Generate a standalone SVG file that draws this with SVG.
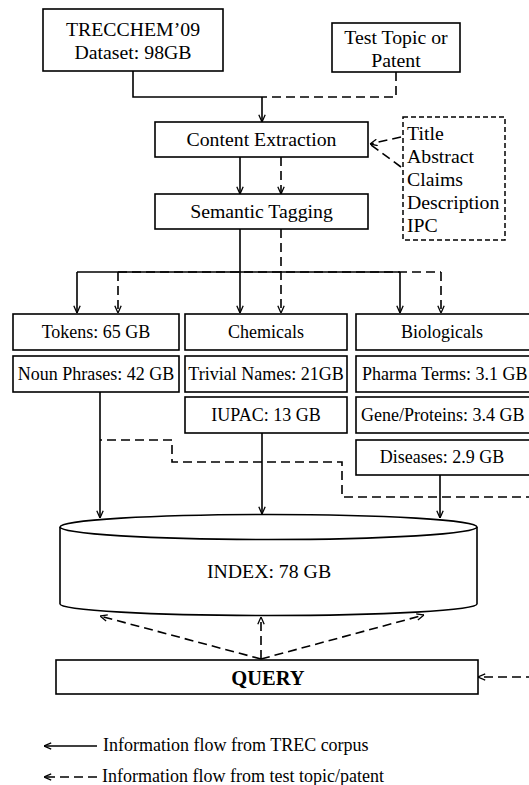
<svg xmlns="http://www.w3.org/2000/svg" width="529" height="785" viewBox="0 0 529 785">
<style>
.box{fill:#fff;stroke:#000;stroke-width:1.6}
.t{font-family:"Liberation Serif","Times New Roman",serif;fill:#000}
.big{font-size:19.8px}
.mid{font-size:18px}
.c{text-anchor:middle}
.ln{fill:none;stroke:#000;stroke-width:1.6}
.da{stroke-dasharray:9,5}
.dd{fill:none;stroke:#000;stroke-width:1.5;stroke-dasharray:5,3}
</style>
<defs>
<marker id="ah" viewBox="0 0 10 10" refX="10" refY="5" markerWidth="8" markerHeight="8" markerUnits="userSpaceOnUse" orient="auto">
<path d="M1,1 L10,5 L1,9" fill="none" stroke="#000" stroke-width="1.6"/>
</marker>
</defs>

<g id="connectors">
<path class="ln" d="M133,71 V97 H262"/>
<path class="ln da" d="M396,72 V97 H262"/>
<path class="ln" d="M262,97 V122" marker-end="url(#ah)"/>
<path class="ln da" d="M401,137 L370,144" marker-end="url(#ah)"/>
<path class="ln da" d="M401,167 L371,145"/>
<path class="ln" d="M240,157 V194" marker-end="url(#ah)"/>
<path class="ln da" d="M281,157 V194" marker-end="url(#ah)"/>
<path class="ln" d="M240,229 V272"/>
<path class="ln" d="M77,272 H400"/>
<path class="ln da" d="M118,272 H441"/>
<path class="ln" d="M77,272 V313" marker-end="url(#ah)"/>
<path class="ln" d="M240,272 V313" marker-end="url(#ah)"/>
<path class="ln" d="M400,272 V313" marker-end="url(#ah)"/>
<path class="ln da" d="M118,272 V313" marker-end="url(#ah)"/>
<path class="ln da" d="M281,229 V313" marker-end="url(#ah)"/>
<path class="ln da" d="M441,272 V313" marker-end="url(#ah)"/>
<path class="ln" d="M100,392 V518" marker-end="url(#ah)"/>
<path class="ln" d="M262,433 V514" marker-end="url(#ah)"/>
<path class="ln" d="M440,475 V518" marker-end="url(#ah)"/>
<path class="ln da" d="M535,497 H342 V462 H172 V440 H100"/>
<path class="ln da" d="M261,659 L100,616" marker-end="url(#ah)"/>
<path class="ln da" d="M261,659 V617" marker-end="url(#ah)"/>
<path class="ln da" d="M261,659 L424,615" marker-end="url(#ah)"/>
<path class="ln da" d="M535,677 H478" marker-end="url(#ah)"/>
</g>

<g id="trecchem">
<rect class="box" x="43" y="9" width="180" height="62"/>
<text class="t big c" x="133" y="36">TRECCHEM’09</text>
<text class="t big c" x="133" y="59">Dataset: 98GB</text>
</g>

<g id="testtopic">
<rect class="box" x="332" y="23" width="128" height="49"/>
<text class="t big c" x="396" y="44">Test Topic or</text>
<text class="t big c" x="396" y="67">Patent</text>
</g>

<g id="content-extraction">
<rect class="box" x="155" y="122" width="213" height="35"/>
<text class="t big c" x="261.5" y="146">Content Extraction</text>
</g>

<g id="fields">
<rect class="dd" x="403" y="117" width="102" height="123"/>
<text class="t big" x="407" y="140">Title</text>
<text class="t big" x="407" y="163">Abstract</text>
<text class="t big" x="407" y="186">Claims</text>
<text class="t big" x="407" y="209">Description</text>
<text class="t big" x="407" y="232">IPC</text>
</g>

<g id="semantic-tagging">
<rect class="box" x="155" y="194" width="213" height="35"/>
<text class="t big c" x="261.5" y="218">Semantic Tagging</text>
</g>

<g id="tokens">
<rect class="box" x="13" y="314" width="166" height="36"/>
<text class="t mid c" x="96" y="338">Tokens: 65 GB</text>
</g>
<g id="noun-phrases">
<rect class="box" x="13" y="356" width="166" height="36"/>
<text class="t mid c" x="96" y="380">Noun Phrases: 42 GB</text>
</g>

<g id="chemicals">
<rect class="box" x="185" y="314" width="162" height="36"/>
<text class="t mid c" x="266" y="338">Chemicals</text>
</g>
<g id="trivial-names">
<rect class="box" x="185" y="356" width="162" height="36"/>
<text class="t mid c" x="266" y="380">Trivial Names: 21GB</text>
</g>
<g id="iupac">
<rect class="box" x="185" y="397" width="162" height="36"/>
<text class="t mid c" x="266" y="421">IUPAC: 13 GB</text>
</g>

<g id="biologicals">
<rect class="box" x="356" y="314" width="176" height="36"/>
<text class="t mid c" x="442" y="338">Biologicals</text>
</g>
<g id="pharma-terms">
<rect class="box" x="356" y="356" width="176" height="36"/>
<text class="t mid" x="362" y="380">Pharma Terms: 3.1 GB</text>
</g>
<g id="gene-proteins">
<rect class="box" x="356" y="397" width="176" height="36"/>
<text class="t mid" x="361" y="421">Gene/Proteins: 3.4 GB</text>
</g>
<g id="diseases">
<rect class="box" x="356" y="440" width="176" height="35"/>
<text class="t mid c" x="442" y="463">Diseases: 2.9 GB</text>
</g>

<g id="index">
<path class="box" d="M60,527 V604 A208.5,11.5 0 0 0 477,604 V527"/>
<ellipse class="box" cx="268.5" cy="527" rx="208.5" ry="12.5"/>
<text class="t big c" x="269" y="578">INDEX: 78 GB</text>
</g>

<g id="query">
<rect class="box" x="56" y="660" width="422" height="34"/>
<text class="t c" x="268" y="685" style="font-size:20.5px;font-weight:bold">QUERY</text>
</g>

<g id="legend">
<path class="ln" d="M97,746 H44" marker-end="url(#ah)"/>
<text class="t mid" x="103" y="751">Information flow from TREC corpus</text>
<path class="ln da" d="M97,777 H44" marker-end="url(#ah)"/>
<text class="t mid" x="102" y="782">Information flow from test topic/patent</text>
</g>
</svg>
